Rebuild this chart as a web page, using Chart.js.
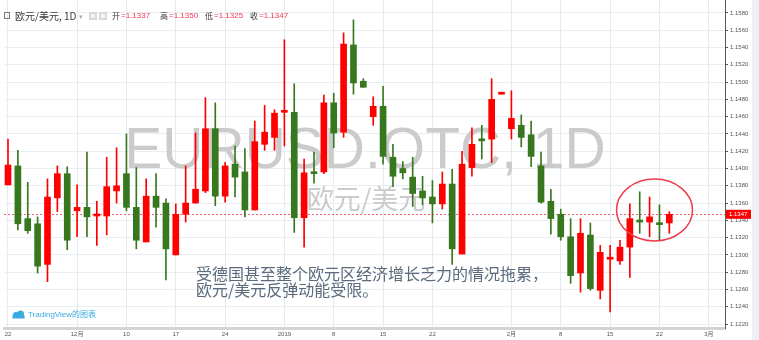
<!DOCTYPE html>
<html>
<head>
<meta charset="utf-8">
<title>EURUSD 1D</title>
<script src="https://cdn.jsdelivr.net/npm/chart.js@4"></script>
<style>
  html, body { margin: 0; padding: 0; background: #fff; }
  #wrap { position: relative; width: 759px; height: 340px; overflow: hidden; }
</style>
</head>
<body>
<div id="wrap"><canvas id="kline" width="759" height="340"></canvas></div>
<script>
// ── Daily candles, EUR/USD ───────────────────────────────────
const opens  = [1.1381, 1.1403, 1.1342, 1.1336, 1.1289, 1.1366, 1.1394, 1.1351, 1.1355, 1.1345,
                1.1345, 1.1374, 1.1394, 1.1355, 1.1315, 1.1368, 1.1360, 1.1300, 1.1347, 1.1360,
                1.1374, 1.1446, 1.1368, 1.1405, 1.1396, 1.1352, 1.1428, 1.1436, 1.1465, 1.1465,
                1.1343, 1.1396, 1.1396, 1.1476, 1.1442, 1.1543, 1.1501, 1.1460, 1.1472, 1.1413,
                1.1400, 1.1390, 1.1374, 1.1367, 1.1359, 1.1382, 1.1301, 1.1401, 1.1434, 1.1434,
                1.1486, 1.1446, 1.1450, 1.1439, 1.1403, 1.1362, 1.1347, 1.1321, 1.1279, 1.1323,
                1.1259, 1.1295, 1.1293, 1.1309, 1.1340, 1.1338, 1.1337, 1.1337];
const highs  = [1.1434, 1.1421, 1.1384, 1.1344, 1.1388, 1.1403, 1.1402, 1.1381, 1.1419, 1.1362,
                1.1413, 1.1424, 1.1440, 1.1401, 1.1388, 1.1394, 1.1365, 1.1359, 1.1403, 1.1441,
                1.1482, 1.1476, 1.1407, 1.1426, 1.1423, 1.1455, 1.1473, 1.1468, 1.1549, 1.1498,
                1.1411, 1.1419, 1.1485, 1.1487, 1.1557, 1.1572, 1.1504, 1.1483, 1.1495, 1.1428,
                1.1408, 1.1413, 1.1391, 1.1386, 1.1396, 1.1399, 1.1420, 1.1447, 1.1450, 1.1504,
                1.1488, 1.1490, 1.1462, 1.1455, 1.1419, 1.1376, 1.1353, 1.1342, 1.1342, 1.1337,
                1.1311, 1.1311, 1.1317, 1.1359, 1.1373, 1.1367, 1.1358, 1.1350];
const lows   = [1.1381, 1.1329, 1.1325, 1.1279, 1.1269, 1.1350, 1.1306, 1.1321, 1.1321, 1.1311,
                1.1323, 1.1360, 1.1351, 1.1307, 1.1315, 1.1332, 1.1271, 1.1300, 1.1338, 1.1360,
                1.1372, 1.1357, 1.1361, 1.1367, 1.1344, 1.1352, 1.1421, 1.1421, 1.1426, 1.1326,
                1.1309, 1.1383, 1.1394, 1.1424, 1.1436, 1.1486, 1.1494, 1.1450, 1.1405, 1.1379,
                1.1388, 1.1356, 1.1358, 1.1337, 1.1353, 1.1289, 1.1301, 1.1391, 1.1411, 1.1407,
                1.1486, 1.1434, 1.1425, 1.1402, 1.1360, 1.1324, 1.1317, 1.1267, 1.1257, 1.1259,
                1.1249, 1.1234, 1.1289, 1.1274, 1.1325, 1.1321, 1.1317, 1.1325];
const closes = [1.1404, 1.1336, 1.1328, 1.1287, 1.1367, 1.1394, 1.1317, 1.1355, 1.1344, 1.1346,
                1.1379, 1.1380, 1.1355, 1.1317, 1.1368, 1.1355, 1.1307, 1.1347, 1.1360, 1.1376,
                1.1446, 1.1368, 1.1403, 1.1390, 1.1352, 1.1431, 1.1442, 1.1464, 1.1466, 1.1343,
                1.1395, 1.1394, 1.1476, 1.1441, 1.1544, 1.1499, 1.1494, 1.1472, 1.1414, 1.1391,
                1.1395, 1.1371, 1.1366, 1.1359, 1.1382, 1.1307, 1.1405, 1.1428, 1.1432, 1.1480,
                1.1487, 1.1458, 1.1436, 1.1414, 1.1361, 1.1342, 1.1321, 1.1276, 1.1325, 1.1261,
                1.1303, 1.1296, 1.1309, 1.1342, 1.1338, 1.1344, 1.1335, 1.1347];

// ── Axis ticks ───────────────────────────────────────────────
const xTickIdx    = [0, 7, 12, 17, 22, 28, 33, 38, 43, 51, 56, 61, 66, 71];
const xTickLabels = ['22', '12月', '10', '17', '24', '2019', '8', '15', '22', '2月', '8', '15', '22', '3月'];
const yTicks      = [1.1220, 1.1240, 1.1260, 1.1280, 1.1300, 1.1320, 1.1340, 1.1360, 1.1380, 1.1400,
                     1.1420, 1.1440, 1.1460, 1.1480, 1.1500, 1.1520, 1.1540, 1.1560, 1.1580];

const UP   = '#ff0000';
const DOWN = '#37781e';
const VAL  = '#f23a55';

const colors = closes.map((c, i) => c >= opens[i] ? UP : DOWN);
const last   = closes.length - 1;

// no extra label padding: chart area runs edge to edge
const noPad = s => { s.paddingTop = 0; s.paddingBottom = 0; s.paddingLeft = 0; s.paddingRight = 0; };

// ── Overlay drawing: watermark, price line, notes, header ────
const overlay = {
    id: 'overlay',
    beforeDatasetsDraw(chart) {
        const { ctx, chartArea: a, scales: { y } } = chart;
        ctx.save();
        ctx.fillStyle = '#cbcbcb';
        ctx.textAlign = 'center';
        ctx.textBaseline = 'alphabetic';
        ctx.font = '57px "Liberation Sans", Arial, sans-serif';
        ctx.fillText('EURUSD.OTC, 1D', 365, 168);
        ctx.font = '27px "Noto Sans CJK SC", sans-serif';
        ctx.textBaseline = 'middle';
        ctx.fillText('欧元/美元', 366, 199);

        // last-price dashed line
        const py = Math.round(y.getPixelForValue(closes[last])) + 0.5;
        ctx.strokeStyle = 'rgba(240,60,80,0.8)';
        ctx.setLineDash([2, 2]);
        ctx.lineWidth = 1;
        ctx.beginPath();
        ctx.moveTo(a.left, py);
        ctx.lineTo(a.right, py);
        ctx.stroke();
        ctx.restore();
    },
    afterDatasetsDraw(chart) {
        const { ctx, scales: { x, y } } = chart;
        ctx.save();
        // circle round the last few sessions
        ctx.strokeStyle = '#ee3b4b';
        ctx.lineWidth = 1.5;
        ctx.beginPath();
        ctx.ellipse(x.getPixelForValue(65.5), y.getPixelForValue(1.1352), 38, 31, 0, 0, Math.PI * 2);
        ctx.stroke();

        // comment text
        ctx.fillStyle = '#5b6b7c';
        ctx.font = '16px "Noto Sans CJK SC", sans-serif';
        ctx.textAlign = 'left';
        ctx.textBaseline = 'middle';
        ctx.fillText('受德国甚至整个欧元区经济增长乏力的情况拖累，', 196, 274);
        ctx.fillText('欧元/美元反弹动能受限。', 196, 290);
        ctx.restore();
    },
    afterDraw(chart) {
        const { ctx, scales: { y } } = chart;
        ctx.save();
        // last-price tag on the axis
        const py = y.getPixelForValue(closes[last]);
        ctx.fillStyle = '#ff0000';
        ctx.fillRect(726, py - 4.5, 25, 9);
        ctx.fillStyle = '#fff';
        ctx.font = '6px "Liberation Sans", Arial, sans-serif';
        ctx.textBaseline = 'middle';
        ctx.fillText(closes[last].toFixed(4), 729, py);

        // right edge strip
        ctx.fillStyle = '#eef1f4';
        ctx.fillRect(752, 0, 7, 340);

        // header legend
        ctx.strokeStyle = '#777';
        ctx.lineWidth = 1;
        ctx.strokeRect(4.5, 12.5, 5, 6);
        ctx.fillStyle = '#3a3a3a';
        ctx.font = '10px "Noto Sans CJK SC", sans-serif';
        ctx.fillText('欧元/美元, 1D', 15, 16);
        ctx.fillStyle = '#aaa';
        ctx.font = '7px "DejaVu Sans", sans-serif';
        ctx.fillText('▾', 79, 17);
        ctx.fillStyle = '#d9d9d9';
        ctx.fillRect(89, 12, 8, 8);
        ctx.fillRect(99, 12, 8, 8);
        ctx.fillStyle = '#f4f4f4';
        ctx.fillRect(91, 14, 4, 4);
        ctx.fillRect(101, 14, 4, 4);

        const items = [['开', opens[last], 112], ['高', highs[last], 160], ['低', lows[last], 205], ['收', closes[last], 250]];
        items.forEach(([lbl, v, lx]) => {
            ctx.fillStyle = '#3a3a3a';
            ctx.font = '8px "Noto Sans CJK SC", sans-serif';
            ctx.fillText(lbl, lx, 16);
            ctx.fillStyle = VAL;
            ctx.font = '8px "Liberation Sans", Arial, sans-serif';
            ctx.fillText('=' + v.toFixed(4), lx + 9, 16);
        });

        // TradingView logo
        ctx.fillStyle = '#3aabe0';
        ctx.beginPath();
        ctx.arc(16, 315, 3, 0, Math.PI * 2);
        ctx.arc(20.5, 314, 3.5, 0, Math.PI * 2);
        ctx.fill();
        ctx.fillRect(12.5, 315, 12, 3.5);
        ctx.font = '8px "Liberation Sans", "Noto Sans CJK SC", sans-serif';
        ctx.fillText('TradingView的图表', 28, 315);
        ctx.restore();
    }
};

const idx = opens.map((_, i) => i);

new Chart(document.getElementById('kline'), {
    type: 'bar',
    data: {
        datasets: [{
            label: 'wick',
            data: idx.map(i => ({ x: i, y: [lows[i], highs[i]] })),
            backgroundColor: colors,
            barThickness: 1,
            minBarLength: 1,
            grouped: false,
            order: 2
        }, {
            label: 'body',
            data: idx.map(i => ({ x: i, y: [opens[i], closes[i]] })),
            backgroundColor: colors,
            barThickness: 6,
            minBarLength: 2,
            grouped: false,
            order: 1
        }]
    },
    options: {
        responsive: false,
        animation: false,
        layout: { padding: { left: 4, top: 0, right: 0, bottom: 0 } },
        plugins: { legend: { display: false }, tooltip: { enabled: false } },
        scales: {
            x: {
                type: 'linear',
                min: -0.405,
                max: 72.64,
                offset: false,
                grid: { offset: false, color: '#e3ebf1', tickColor: '#aaa', tickLength: 2 },
                border: { display: true, color: '#d4d4d4', width: 3 },
                afterBuildTicks: s => { s.ticks = xTickIdx.map(v => ({ value: v })); },
                afterFit: s => { s.height = 12; noPad(s); },
                ticks: {
                    autoSkip: false,
                    maxRotation: 0,
                    padding: 1,
                    color: '#555',
                    font: { size: 6, family: '"Liberation Sans", "Noto Sans CJK SC", sans-serif' },
                    callback: v => xTickLabels[xTickIdx.indexOf(v)]
                }
            },
            y: {
                position: 'right',
                min: 1.12154,
                max: 1.1595,
                grid: { color: '#e8eef3', tickColor: '#555', tickLength: 3 },
                border: { display: true, color: '#555', width: 1 },
                afterBuildTicks: s => { s.ticks = yTicks.map(v => ({ value: v })); },
                afterFit: s => { s.width = 34; noPad(s); },
                ticks: {
                    autoSkip: false,
                    padding: 2,
                    color: '#555',
                    font: { size: 6, family: '"Liberation Sans", Arial, sans-serif' },
                    callback: v => v.toFixed(4)
                }
            }
        }
    },
    plugins: [overlay]
});
</script>
</body>
</html>
